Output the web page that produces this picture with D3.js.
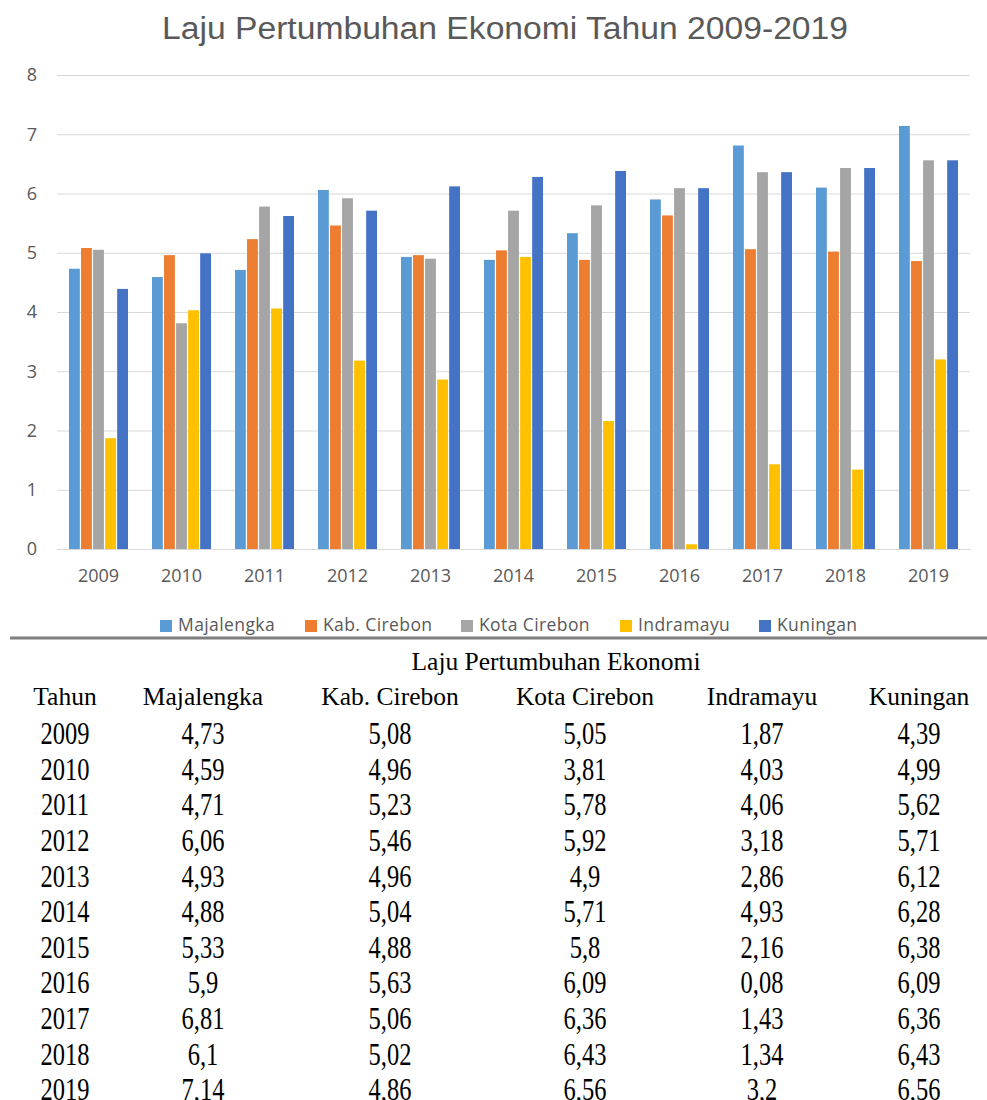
<!DOCTYPE html>
<html lang="en">
<head>
<meta charset="UTF-8">
<title>Laju Pertumbuhan Ekonomi</title>
<script src="https://d3js.org/d3.v7.min.js"></script>
<style>
  body { margin: 0; background: #fff; }
  svg { display: block; }
</style>
</head>
<body>
<svg id="chart"></svg>
<script>
// data
var years = ["2009", "2010", "2011", "2012", "2013", "2014", "2015", "2016", "2017", "2018", "2019"];
var seriesNames = ["Majalengka", "Kab. Cirebon", "Kota Cirebon", "Indramayu", "Kuningan"];
var majalengka = [4.73, 4.59, 4.71, 6.06, 4.93, 4.88, 5.33, 5.9, 6.81, 6.1, 7.14];
var kabCirebon = [5.08, 4.96, 5.23, 5.46, 4.96, 5.04, 4.88, 5.63, 5.06, 5.02, 4.86];
var kotaCirebon = [5.05, 3.81, 5.78, 5.92, 4.9, 5.71, 5.8, 6.09, 6.36, 6.43, 6.56];
var indramayu = [1.87, 4.03, 4.06, 3.18, 2.86, 4.93, 2.16, 0.08, 1.43, 1.34, 3.2];
var kuningan = [4.39, 4.99, 5.62, 5.71, 6.12, 6.28, 6.38, 6.09, 6.36, 6.43, 6.56];
var yTicks = [0, 1, 2, 3, 4, 5, 6, 7, 8];

var seriesValues = [majalengka, kabCirebon, kotaCirebon, indramayu, kuningan];
var colors = ["#5B9BD5", "#ED7D31", "#A5A5A5", "#FFC000", "#4472C4"];

var width = 987, height = 1100;
var svg = d3.select("#chart").attr("width", width).attr("height", height);

// format numbers the way the table does (comma decimal)
function fmt(v) { return String(v).replace(".", ","); }

// ---------- chart ----------
var margin = { left: 57, right: 17 };
var x0 = d3.scaleBand().domain(years).range([margin.left, width - margin.right]).paddingInner(0.26).paddingOuter(0.13);
var x1 = d3.scaleBand().domain(seriesNames).range([0, x0.bandwidth()]).padding(0.1);
var y = d3.scaleLinear().domain([0, 8]).range([549, 75]);

svg.append("text")
  .attr("x", 505).attr("y", 39)
  .attr("text-anchor", "middle")
  .attr("font-family", "Liberation Sans, Arial, sans-serif")
  .attr("font-size", 31)
  .attr("fill", "#595959")
  .attr("textLength", 686).attr("lengthAdjust", "spacingAndGlyphs")
  .text("Laju Pertumbuhan Ekonomi Tahun 2009-2019");

var yAxis = d3.axisLeft(y).tickValues(yTicks).tickSize(-(width - margin.right - margin.left)).tickFormat(d3.format("d"));
var gy = svg.append("g").attr("transform", "translate(" + margin.left + ",0)").call(yAxis);
gy.select(".domain").remove();
gy.selectAll(".tick line").attr("stroke", "#D9D9D9").attr("stroke-width", 1);
gy.selectAll(".tick text")
  .attr("x", -20)
  .attr("font-family", "Open Sans, sans-serif")
  .attr("font-size", 18)
  .attr("fill", "#595959");

var groups = svg.append("g").selectAll("g")
  .data(years)
  .join("g")
  .attr("transform", function(d) { return "translate(" + x0(d) + ",0)"; });

groups.selectAll("rect")
  .data(function(d, i) { return seriesNames.map(function(s, k) { return { s: s, k: k, v: seriesValues[k][i] }; }); })
  .join("rect")
  .attr("x", function(d) { return x1(d.s); })
  .attr("width", x1.bandwidth())
  .attr("y", function(d) { return y(d.v); })
  .attr("height", function(d) { return y(0) - y(d.v); })
  .attr("fill", function(d) { return colors[d.k]; });

var xAxis = d3.axisBottom(x0).tickSize(0).tickPadding(20);
var gx = svg.append("g").attr("transform", "translate(0," + y(0) + ")").call(xAxis);
gx.select(".domain").attr("stroke", "#D9D9D9");
gx.selectAll(".tick text")
  .attr("font-family", "Open Sans, sans-serif")
  .attr("font-size", 18)
  .attr("fill", "#595959");

// legend
var legendX = [160, 305, 461, 620, 759];
var legend = svg.append("g").selectAll("g")
  .data(seriesNames)
  .join("g")
  .attr("transform", function(d, i) { return "translate(" + legendX[i] + ",619)"; });
legend.append("rect").attr("width", 12).attr("height", 12).attr("y", 1)
  .attr("fill", function(d, i) { return colors[i]; });
legend.append("text")
  .attr("x", 18).attr("y", 12)
  .attr("font-family", "Open Sans, sans-serif")
  .attr("font-size", 17.5)
  .attr("letter-spacing", 0.4)
  .attr("fill", "#595959")
  .text(function(d) { return d; });

// separator
svg.append("line").attr("x1", 10).attr("x2", width).attr("y1", 638).attr("y2", 638)
  .attr("stroke", "#7F7F7F").attr("stroke-width", 3);

// ---------- table ----------
var colX = [65, 203, 390, 585, 762, 919];
var rowY = d3.scaleBand().domain(years).range([717, 1109]);
var serif = "Liberation Serif, Times New Roman, serif";

function cell(g, xx, yy, txt, size, sy) {
  return g.append("text")
    .attr("transform", "translate(" + xx + "," + yy + ") scale(1," + sy + ")")
    .attr("text-anchor", "middle")
    .attr("font-family", serif)
    .attr("font-size", size)
    .attr("fill", "#000")
    .text(txt);
}

var tbl = svg.append("g");
cell(tbl, 556, 670, "Laju Pertumbuhan Ekonomi", 25.5, 1);
var headers = ["Tahun"].concat(seriesNames);
headers.forEach(function(h, i) { cell(tbl, colX[i], 705, h, 25.5, 1); });

years.forEach(function(yr, r) {
  var yy = rowY(yr) + 27;
  cell(tbl, colX[0], yy, yr, 24.5, 1.27);
  seriesValues.forEach(function(vals, k) {
    cell(tbl, colX[k + 1], yy, fmt(vals[r]), 24.5, 1.27);
  });
});
</script>
</body>
</html>
